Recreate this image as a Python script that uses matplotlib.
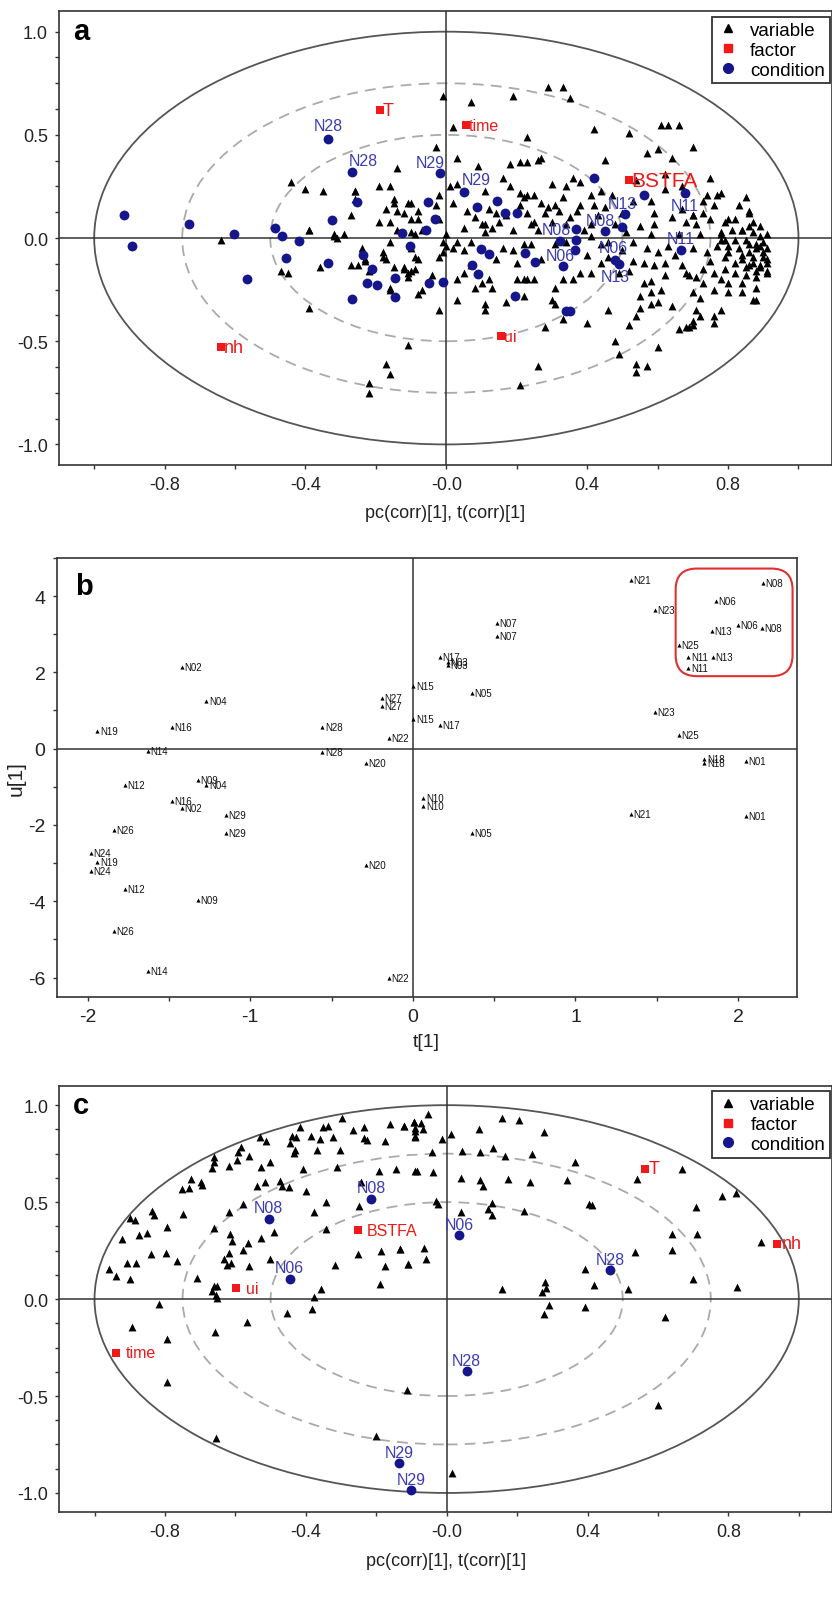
import numpy as np
import matplotlib
matplotlib.use("Agg")
import matplotlib.pyplot as plt
from matplotlib.patches import Ellipse, FancyBboxPatch
from matplotlib.ticker import MultipleLocator, FixedLocator, FixedFormatter
from matplotlib.lines import Line2D

plt.rcParams['font.family'] = ['Liberation Sans', 'DejaVu Sans']
plt.rcParams['axes.unicode_minus'] = False

# ---------------- panel a data ----------------
a_var = [
    (-0.01,0.69),(0.07,0.66),(0.19,0.69),(0.02,0.54),(0.23,0.49),(-0.03,0.44),(0.03,0.39),(-0.14,0.34),(0.09,0.35),
    (0.18,0.36),(0.21,0.37),(0.23,0.37),(0.16,0.29),(-0.44,0.27),(-0.40,0.24),(-0.35,0.23),(-0.26,0.23),(-0.19,0.25),
    (-0.16,0.25),(-0.02,0.21),(0.01,0.25),(0.03,0.26),(0.11,0.23),(0.18,0.25),(0.21,0.22),(0.22,0.20),(-0.26,0.19),
    (-0.15,0.19),(-0.11,0.17),(-0.10,0.17),(-0.03,0.16),(0.02,0.17),(-0.17,0.14),(-0.14,0.13),(-0.12,0.12),(-0.08,0.13),
    (0.06,0.13),(0.12,0.14),(0.14,0.12),(0.21,0.16),(-0.27,0.11),(-0.19,0.08),(-0.16,0.08),(-0.10,0.09),(-0.08,0.09),
    (-0.02,0.09),(0.10,0.07),(0.11,0.07),(0.15,0.08),(0.19,0.04),(-0.39,0.04),(-0.32,0.02),(-0.29,0.02),(-0.14,0.04),
    (-0.10,0.03),(-0.07,0.04),(0.00,0.02),(0.11,0.03),
    (0.29,0.73),(0.33,0.73),(0.35,0.68),(0.42,0.53),(0.52,0.51),(0.61,0.55),(0.63,0.55),(0.66,0.55),(0.70,0.44),
    (0.57,0.41),(0.60,0.43),(0.64,0.39),(0.27,0.39),(0.26,0.38),(0.45,0.38),(0.36,0.29),(0.75,0.29),(0.62,0.31),
    (0.54,0.28),(0.30,0.26),(0.34,0.25),(0.38,0.27),(0.67,0.25),(0.23,0.21),(0.25,0.21),(0.33,0.20),(0.41,0.21),
    (0.44,0.23),(0.47,0.21),(0.58,0.18),(0.62,0.24),(0.74,0.21),(0.77,0.21),(0.85,0.20),(0.27,0.17),(0.31,0.16),
    (0.38,0.16),(0.42,0.16),(0.76,0.16),(0.23,0.12),(0.28,0.12),(0.32,0.13),(0.37,0.13),(0.43,0.11),(0.59,0.12),
    (0.67,0.14),(0.70,0.11),(0.73,0.12),(0.86,0.13),(0.25,0.08),(0.24,0.07),(0.30,0.08),(0.34,0.07),(0.41,0.07),
    (0.48,0.07),(0.55,0.06),(0.59,0.07),(0.68,0.08),(0.71,0.07),(0.79,0.08),(0.82,0.09),(0.87,0.08),(0.89,0.06),
    (0.78,0.02),(0.84,0.04),(0.91,0.02),(0.51,0.03),(0.58,0.02),
    (-0.32,0.01),(-0.24,-0.05),(-0.27,-0.13),(-0.25,-0.13),(-0.36,-0.14),(-0.47,-0.16),(-0.45,-0.17),(-0.23,-0.11),
    (-0.22,-0.16),(-0.18,-0.07),(-0.16,-0.02),(-0.17,-0.10),(-0.15,-0.14),(-0.12,-0.15),(-0.10,-0.16),(-0.09,-0.15),
    (-0.11,-0.19),(-0.16,-0.24),(-0.07,-0.25),(-0.08,-0.27),(-0.04,-0.18),(-0.10,-0.05),(-0.09,-0.09),(-0.09,0.02),
    (-0.01,-0.02),(0.00,-0.04),(-0.01,-0.07),(0.02,-0.05),(0.03,-0.02),(0.05,-0.06),(0.07,-0.02),(-0.02,-0.09),
    (0.03,-0.20),(0.05,-0.17),(0.07,-0.13),(0.10,-0.22),(0.08,-0.24),(0.12,-0.20),(0.13,-0.24),(0.03,-0.30),
    (-0.02,-0.35),(0.11,-0.32),(0.11,-0.35),(0.17,-0.31),(0.20,-0.20),(0.22,-0.20),(0.22,-0.28),(0.16,-0.05),
    (0.19,-0.06),(-0.39,-0.34),(-0.11,-0.52),(-0.17,-0.61),(-0.16,-0.66),(-0.22,-0.70),(-0.22,-0.75),(0.21,-0.71),
    (0.22,-0.03),(0.24,-0.03),(0.31,-0.03),(0.34,-0.02),(0.41,0.01),(0.44,-0.03),(0.53,-0.02),(0.57,-0.05),(0.60,-0.07),
    (0.63,-0.04),(0.70,-0.05),(0.74,-0.07),(0.78,-0.01),(0.80,-0.04),(0.83,-0.05),(0.86,-0.03),(0.89,-0.04),(0.91,-0.05),
    (0.84,-0.08),(0.87,-0.09),(0.90,-0.09),(0.82,-0.12),(0.86,-0.13),(0.89,-0.14),(0.91,-0.16),(0.85,-0.18),(0.88,-0.19),
    (0.91,-0.12),(0.79,-0.09),(0.79,-0.15),(0.76,-0.17),(0.78,-0.20),(0.80,-0.22),(0.76,-0.25),(0.80,-0.26),(0.84,-0.26),
    (0.88,-0.24),(0.87,-0.30),(0.73,-0.15),(0.71,-0.19),(0.73,-0.22),(0.70,-0.26),(0.72,-0.29),(0.67,-0.13),(0.68,-0.17),
    (0.69,-0.18),(0.62,-0.18),(0.58,-0.21),(0.56,-0.22),(0.61,-0.25),(0.58,-0.26),(0.55,-0.28),(0.60,-0.31),(0.58,-0.32),
    (0.55,-0.34),(0.64,-0.33),(0.53,-0.11),(0.56,-0.12),(0.59,-0.13),(0.52,-0.16),(0.49,-0.17),(0.41,-0.17),(0.44,-0.12),
    (0.46,-0.09),(0.38,-0.17),(0.36,-0.20),(0.33,-0.20),(0.31,-0.24),(0.30,-0.30),(0.31,-0.32),(0.25,-0.20),(0.23,-0.20),
    (0.46,-0.35),(0.33,-0.39),(0.40,-0.41),(0.52,-0.42),(0.54,-0.38),(0.71,-0.35),(0.72,-0.38),(0.76,-0.38),(0.78,-0.35),
    (0.76,-0.41),(0.66,-0.44),(0.69,-0.43),(0.70,-0.42),(0.28,-0.43),(0.48,-0.50),(0.49,-0.56),(0.60,-0.53),(0.54,-0.61),
    (0.57,-0.62),(0.54,-0.65),(0.26,-0.62),
    (0.81,0.04),(0.84,0.04),(0.87,0.03),(0.89,0.01),(0.85,-0.01),(0.88,-0.03),(0.90,-0.02),(0.86,-0.07),(0.91,-0.10),
    (0.84,-0.10),(0.87,-0.12),(0.89,-0.13),(0.91,-0.17),(0.85,-0.14),(0.88,-0.16),(0.80,-0.07),(0.78,0.03),(0.79,-0.01),
    (0.77,-0.04),(0.82,-0.01),(0.88,-0.05),(0.90,-0.07),(0.86,0.06),(0.78,0.22),(0.83,0.16),(0.86,0.12),(0.80,0.09),
    (0.70,0.11),(0.73,0.18),(0.88,-0.30),(0.70,-0.40),(0.68,-0.43),
    (-0.64,-0.01),(-0.39,0.04),(-0.31,0.00),(-0.26,0.23),(-0.15,0.17),(-0.23,-0.10),(-0.18,-0.09),(-0.12,-0.14),
    (-0.11,-0.17),(-0.16,-0.25),(-0.08,-0.10),
    (0.05,0.05),(0.08,0.10),(0.13,0.05),(0.17,0.11),(0.26,0.04),(0.29,0.15),(0.35,0.10),(0.39,0.04),(0.45,0.15),
    (0.50,0.12),(0.53,0.18),(0.64,0.10),(0.66,0.02),(0.72,0.02),(0.75,0.09),(0.46,-0.02),(0.50,-0.06),(0.40,-0.08),
    (0.27,-0.10),(0.20,-0.12),(0.14,-0.10),(0.65,-0.08),(0.62,-0.12),(0.75,-0.11),(0.82,-0.17),(0.84,-0.22),
]
a_fac_names = ['T', 'time', 'BSTFA', 'nh', 'ui']
a_fac = [(-0.188, 0.62), (0.055, 0.547), (0.518, 0.281), (-0.639, -0.529), (0.155, -0.476)]
a_cond = [
    (-0.916,0.11),(-0.893,-0.04),(-0.732,0.07),(-0.603,0.02),(-0.565,-0.20),(-0.486,0.05),(-0.466,0.01),(-0.455,-0.095),
    (-0.417,-0.015),(-0.325,0.086),(-0.335,-0.121),(-0.255,0.176),(-0.267,-0.294),(-0.238,-0.08),(-0.21,-0.15),
    (-0.226,-0.22),(-0.196,-0.226),(-0.146,-0.195),(-0.147,-0.284),(-0.125,0.023),(-0.102,-0.037),(-0.052,0.176),
    (-0.033,0.092),(-0.057,0.04),(-0.049,-0.218),(-0.01,-0.215),(0.086,0.149),(0.074,-0.129),(0.09,-0.173),
    (0.098,-0.053),(0.121,-0.079),(0.144,0.181),(0.168,0.119),(0.2,0.119),(0.224,-0.074),(0.251,-0.118),(0.195,-0.279),
    (0.369,0.044),(0.369,-0.008),(0.366,-0.056),(0.34,-0.352),(0.351,-0.355),(0.419,0.289),(0.498,0.053),(0.561,0.211),
]
a_cond_named = ['N28', 'N28', 'N29', 'N29', 'N13', 'N08', 'N08', 'N11', 'N11', 'N06', 'N06', 'N13']
a_cond_named_xy = [(-0.335,0.478),(-0.267,0.321),(-0.019,0.313),(0.05,0.223),(0.508,0.116),(0.452,0.032),
                   (0.324,-0.013),(0.678,0.218),(0.665,-0.056),(0.478,-0.105),(0.331,-0.134),(0.489,-0.126)]
a_lab_off = [(0,10),(8,8),(-7,8),(9,9),(-2,8),(-4,8),(-3,8),(0,-9),(0,8),(-1,9),(-2,7),(-2,-9)]

# ---------------- panel b data ----------------
b_names = ['N02','N04','N16','N19','N14','N28','N27','N27','N22','N28','N20','N09','N04','N12','N16','N02','N29',
           'N29','N26','N24','N19','N24','N12','N09','N26','N14','N20','N22',
           'N21','N23','N08','N06','N13','N06','N08','N25','N11','N13','N11','N07','N07','N17','N03','N03','N15',
           'N05','N15','N17','N23','N25','N18','N18','N01','N10','N10','N21','N05','N01']
b_t = [-1.42,-1.27,-1.48,-1.94,-1.63,-0.556,-0.19,-0.19,-0.146,-0.556,-0.29,-1.32,-1.27,-1.77,-1.48,-1.42,-1.15,
       -1.15,-1.84,-1.98,-1.94,-1.98,-1.77,-1.32,-1.84,-1.63,-0.29,-0.146,
       1.343,1.487,2.151,1.865,1.84,2.0,2.147,1.636,1.695,1.845,1.695,0.515,0.515,0.166,0.217,0.217,0.004,
       0.364,0.004,0.166,1.487,1.636,1.793,1.793,2.049,0.065,0.065,1.343,0.364,2.049]
b_u = [2.15,1.25,0.58,0.46,-0.06,0.56,1.34,1.11,0.28,-0.10,-0.37,-0.82,-0.96,-0.95,-1.38,-1.56,-1.74,
       -2.20,-2.12,-2.74,-2.97,-3.20,-3.68,-3.96,-4.79,-5.84,-3.05,-6.0,
       4.43,3.63,4.33,3.87,3.09,3.24,3.16,2.71,2.39,2.39,2.11,3.30,2.95,2.39,2.28,2.18,1.65,
       1.46,0.78,0.63,0.96,0.36,-0.26,-0.37,-0.32,-1.30,-1.50,-1.70,-2.20,-1.76]
b_box = (1.616, 1.90, 2.335, 4.72)   # t0, u0, t1, u1 of highlighted group

# ---------------- panel c data ----------------
c_var = [
    (-0.297,0.932),(-0.417,0.885),(-0.351,0.885),(-0.337,0.892),(-0.439,0.841),(-0.427,0.834),(-0.386,0.841),
    (-0.360,0.824),(-0.322,0.834),(-0.266,0.872),(-0.234,0.885),(-0.236,0.829),(-0.226,0.821),(-0.174,0.817),
    (-0.162,0.903),(-0.120,0.892),(-0.094,0.915),(-0.089,0.880),(-0.089,0.841),(-0.530,0.834),(-0.512,0.817),
    (-0.445,0.803),(-0.431,0.769),(-0.433,0.752),(-0.369,0.769),(-0.304,0.769),(-0.584,0.786),(-0.593,0.761),
    (-0.595,0.718),(-0.561,0.738),(-0.661,0.732),(-0.661,0.709),(-0.665,0.675),(-0.618,0.684),(-0.527,0.680),
    (-0.503,0.706),(-0.407,0.670),(-0.312,0.679),(-0.193,0.663),(-0.143,0.670),(-0.089,0.663),(-0.727,0.619),
    (-0.699,0.602),(-0.694,0.590),(-0.751,0.568),(-0.732,0.573),(-0.540,0.581),(-0.517,0.602),(-0.472,0.607),
    (-0.469,0.585),(-0.448,0.578),(-0.399,0.556),(-0.242,0.602),(-0.579,0.492),(-0.344,0.499),(-0.249,0.482),
    (-0.836,0.453),(-0.830,0.431),(-0.748,0.439),(-0.618,0.448),(-0.899,0.419),(-0.885,0.407),(-0.793,0.373),
    (-0.874,0.328),(-0.850,0.342),(-0.923,0.311),(-0.841,0.231),(-0.798,0.239),(-0.907,0.185),(-0.883,0.188),
    (-0.765,0.197),(-0.959,0.154),(-0.940,0.120),(-0.899,0.106),(-0.710,0.111),(-0.661,0.368),(-0.615,0.333),
    (-0.609,0.299),(-0.564,0.287),(-0.528,0.316),(-0.491,0.345),(-0.618,0.239),(-0.578,0.251),(-0.632,0.209),
    (-0.623,0.174),(-0.613,0.188),(-0.560,0.171),(-0.503,0.205),(-0.377,0.448),(-0.344,0.359),(-0.316,0.174),
    (-0.253,0.231),(-0.187,0.248),(-0.174,0.168),(-0.133,0.260),(-0.111,0.179),(-0.190,0.080),(-0.356,0.051),
    (-0.378,0.009),(-0.661,0.068),(-0.651,0.065),(-0.667,0.043),(-0.655,0.021),(-0.653,0.003),(-0.817,-0.026),
    (-0.895,-0.145),(-0.793,-0.205),(-0.659,-0.168),(-0.566,-0.120),(-0.453,-0.074),(-0.383,-0.051),(-0.793,-0.427),
    (-0.113,-0.470),(-0.656,-0.715),(-0.202,-0.706),
    (-0.052,0.952),(-0.121,0.892),(-0.093,0.915),(-0.074,0.909),(-0.090,0.868),(-0.066,0.875),(-0.090,0.834),
    (-0.014,0.824),(0.012,0.850),(0.092,0.877),(0.156,0.935),(0.205,0.923),(0.277,0.863),(-0.043,0.761),
    (0.044,0.766),(0.095,0.756),(0.131,0.781),(0.166,0.738),(0.241,0.747),(0.364,0.706),(-0.085,0.663),
    (-0.040,0.653),(0.040,0.624),(0.096,0.615),(0.104,0.585),(0.175,0.619),(0.238,0.602),(0.342,0.615),
    (0.541,0.619),(0.667,0.672),(0.783,0.530),(0.821,0.547),(-0.030,0.504),(-0.026,0.492),(0.128,0.496),
    (0.118,0.465),(0.130,0.436),(0.040,0.448),(0.220,0.453),(0.405,0.492),(0.414,0.487),(0.709,0.474),
    (0.641,0.337),(0.712,0.337),(0.641,0.251),(0.536,0.243),(0.894,0.294),(-0.132,0.260),(-0.064,0.265),
    (-0.109,0.183),(-0.059,0.209),(0.394,0.157),(0.419,0.072),(0.279,0.089),(0.281,0.055),(0.270,0.034),
    (0.158,0.051),(0.515,0.051),(0.700,0.106),(0.825,0.060),(0.291,-0.029),(0.277,-0.077),(0.392,-0.039),
    (0.619,-0.091),(0.599,-0.544),(0.016,-0.897),
]
c_fac_names = ['ui', 'time', 'BSTFA', 'T', 'nh']
c_fac = [(-0.597, 0.055), (-0.940, -0.277), (-0.252, 0.354), (0.563, 0.672), (0.939, 0.285)]
c_fac_off = [7, 7, 6, 3, 3]
c_cond_names = ['N08', 'N08', 'N06', 'N29', 'N29', 'N06', 'N28', 'N28']
c_cond = [(-0.505,0.414),(-0.214,0.518),(-0.446,0.103),(-0.134,-0.848),(-0.101,-0.986),
          (0.036,0.328),(0.464,0.149),(0.057,-0.373)]

corr_xticks = [-0.8, -0.4, 0.0, 0.4, 0.8]
corr_xticklabels = ['-0.8', '-0.4', '-0.0', '0.4', '0.8']
corr_yticks = [-1.0, -0.5, 0.0, 0.5, 1.0]
corr_yticklabels = ['-1.0', '-0.5', '0.0', '0.5', '1.0']
b_xticks = [-2, -1, 0, 1, 2]
b_yticks = [-6, -4, -2, 0, 2, 4]

RED = '#f01818'
NAVY = '#16168c'
LBLUE = '#3c3cb4'
SPINE = '#333333'


def style_axes(ax, labelsize):
    for s in ax.spines.values():
        s.set_color(SPINE)
        s.set_linewidth(1.2)
    ax.tick_params(which='both', direction='out', length=3, width=1, colors=SPINE,
                   labelsize=labelsize, labelcolor='#222222', pad=5)


def corr_panel(ax, letter, var, fac_names, fac, fac_off, cond_all, cond_names, cond_xy, lab_off):
    ax.set_xlim(-1.1, 1.095)
    ax.set_ylim(-1.1, 1.1)
    for r, ls, col in [(1.0, '-', '#555555'), (0.75, (0, (6, 4)), '#aaaaaa'), (0.5, (0, (6, 4)), '#aaaaaa')]:
        ax.add_patch(Ellipse((0, 0), 2 * r, 2 * r, fill=False, ec=col, lw=1.3, ls=ls, zorder=1))
    ax.axhline(0, color=SPINE, lw=1.1, zorder=1)
    ax.axvline(0, color=SPINE, lw=1.1, zorder=1)
    v = np.array(var)
    ax.scatter(v[:, 0], v[:, 1], marker='^', s=32, c='black', lw=0, zorder=3)
    if cond_all is not None:
        ca = np.array(cond_all)
        ax.scatter(ca[:, 0], ca[:, 1], marker='o', s=50, c=NAVY, lw=0, zorder=4)
    cn = np.array(cond_xy)
    ax.scatter(cn[:, 0], cn[:, 1], marker='o', s=50, c=NAVY, lw=0, zorder=4)
    for name, xy, off in zip(cond_names, cond_xy, lab_off):
        ax.annotate(name, xy, xytext=off, textcoords='offset points', ha='center', va='center',
                    color=LBLUE, fontsize=11.5, zorder=5)
    f = np.array(fac)
    ax.scatter(f[:, 0], f[:, 1], marker='s', s=26, c=RED, lw=0, zorder=5)
    for name, xy, off in zip(fac_names, fac, fac_off):
        fs = 15 if name == 'BSTFA' and letter == 'a' else (13 if name in ('T', 'nh') else 11.5)
        ax.annotate(name, xy, xytext=(off, 0), textcoords='offset points', ha='left', va='center',
                    color=RED, fontsize=fs, zorder=5)
    ax.xaxis.set_major_locator(FixedLocator(corr_xticks))
    ax.xaxis.set_major_formatter(FixedFormatter(corr_xticklabels))
    ax.xaxis.set_minor_locator(MultipleLocator(0.2))
    ax.yaxis.set_major_locator(FixedLocator(corr_yticks))
    ax.yaxis.set_major_formatter(FixedFormatter(corr_yticklabels))
    ax.yaxis.set_minor_locator(MultipleLocator(0.125))
    style_axes(ax, 13)
    ax.set_xlabel('pc(corr)[1], t(corr)[1]', fontsize=13, color='#222222', labelpad=8)
    ax.text(0.018, 0.955, letter, transform=ax.transAxes, fontsize=21, fontweight='bold',
            ha='left', va='center')
    handles = [Line2D([], [], ls='none', marker='^', ms=6, mfc='black', mec='black'),
               Line2D([], [], ls='none', marker='s', ms=6, mfc=RED, mec=RED),
               Line2D([], [], ls='none', marker='o', ms=7, mfc=NAVY, mec=NAVY)]
    leg = ax.legend(handles, ['variable', 'factor', 'condition'], loc='upper right',
                    bbox_to_anchor=(0.997, 0.987), borderaxespad=0, fontsize=13.5, frameon=True,
                    fancybox=False, labelspacing=0.15, handletextpad=0.6, handlelength=1.2,
                    borderpad=0.25)
    leg.get_frame().set_edgecolor('black')
    leg.get_frame().set_linewidth(1.3)
    leg.set_zorder(10)


fig = plt.figure(figsize=(8.32, 16.06), dpi=100)

# panel a
ax_a = fig.add_axes([0.0709, 0.7098, 0.929, 0.2827])
corr_panel(ax_a, 'a', a_var, a_fac_names, a_fac, [2] * 5, a_cond, a_cond_named, a_cond_named_xy, a_lab_off)

# panel b
ax_b = fig.add_axes([0.0681, 0.3788, 0.8894, 0.2732])
ax_b.set_xlim(-2.19, 2.36)
ax_b.set_ylim(-6.5, 5.0)
ax_b.axhline(0, color=SPINE, lw=1.1, zorder=1)
ax_b.axvline(0, color=SPINE, lw=1.1, zorder=1)
ax_b.scatter(b_t, b_u, marker='^', s=9, c='black', lw=0, zorder=3)
for name, t, u in zip(b_names, b_t, b_u):
    ax_b.annotate(name, (t, u), xytext=(1.8, 0), textcoords='offset points', ha='left', va='center',
                  fontsize=7, color='#111111')
box = FancyBboxPatch((b_box[0], b_box[1]), b_box[2] - b_box[0], b_box[3] - b_box[1],
                     boxstyle='round,pad=0,rounding_size=0.13', mutation_aspect=4.25,
                     fill=False, ec='#e03030', lw=1.5, zorder=4)
ax_b.add_patch(box)
ax_b.xaxis.set_major_locator(FixedLocator(b_xticks))
ax_b.xaxis.set_minor_locator(MultipleLocator(0.5))
ax_b.yaxis.set_major_locator(FixedLocator(b_yticks))
ax_b.yaxis.set_minor_locator(MultipleLocator(1))
style_axes(ax_b, 14)
ax_b.set_xlabel('t[1]', fontsize=14, color='#222222', labelpad=6)
ax_b.set_ylabel('u[1]', fontsize=15, color='#222222', labelpad=2)
ax_b.text(0.025, 0.936, 'b', transform=ax_b.transAxes, fontsize=21, fontweight='bold',
          ha='left', va='center')

# panel c
ax_c = fig.add_axes([0.0713, 0.0577, 0.929, 0.2656])
corr_panel(ax_c, 'c', c_var, c_fac_names, c_fac, c_fac_off, None, c_cond_names, c_cond, [(0, 8)] * 8)

fig.savefig('out.png', dpi=100)
